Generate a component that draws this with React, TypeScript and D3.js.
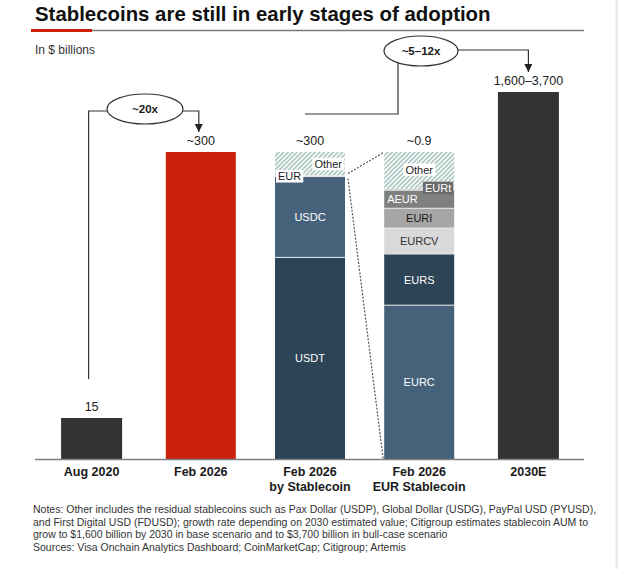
import * as d3 from 'd3'
import { useEffect, useRef } from 'react'

const categories = ['Aug 2020', 'Feb 2026', 'Feb 2026 by Stablecoin', 'Feb 2026 EUR Stablecoin', '2030E']
const categoryLines = [['Aug 2020'], ['Feb 2026'], ['Feb 2026', 'by Stablecoin'], ['Feb 2026', 'EUR Stablecoin'], ['2030E']]
const totalValues = [15, 300, 300, 0.9, 3700]
const totalLabels = ['15', '~300', '~300', '~0.9', '1,600–3,700']

const stablecoinNames = ['USDT', 'USDC', 'EUR', 'Other']
const stablecoinValues = [197, 79, 1, 23]

const eurNames = ['EURC', 'EURS', 'EURCV', 'EURI', 'AEUR', 'EURt', 'Other']
const eurValues = [0.451, 0.15, 0.076, 0.058, 0.053, 0.003, 0.109]

const growthLabels = ['~20x', '~5–12x']

const notes = [
  'Notes: Other includes the residual stablecoins such as Pax Dollar (USDP), Global Dollar (USDG), PayPal USD (PYUSD),',
  'and First Digital USD (FDUSD); growth rate depending on 2030 estimated value; Citigroup estimates stablecoin AUM to',
  'grow to $1,600 billion by 2030 in base scenario and to $3,700 billion in bull-case scenario',
  'Sources: Visa Onchain Analytics Dashboard; CoinMarketCap; Citigroup; Artemis',
]

const FONT = '"Liberation Sans", Arial, sans-serif'
const W = 618
const H = 569
const baseY = 459

// segment styling: fill and text colour
const segStyle: Record<string, { fill: string; text: string }> = {
  USDT: { fill: '#2d4356', text: '#ffffff' },
  USDC: { fill: '#46627a', text: '#ffffff' },
  EUR: { fill: '#46627a', text: '#222' },
  Other: { fill: 'url(#hatch)', text: '#222' },
  EURC: { fill: '#46627a', text: '#ffffff' },
  EURS: { fill: '#2d4356', text: '#ffffff' },
  EURCV: { fill: '#d9d9d9', text: '#333' },
  EURI: { fill: '#a6a6a6', text: '#1a1a1a' },
  AEUR: { fill: '#808080', text: '#ffffff' },
  EURt: { fill: '#6b6b6b', text: '#ffffff' },
}

const App = () => {
  const ref = useRef<SVGSVGElement>(null)

  useEffect(() => {
    const svg = d3.select(ref.current)
    svg.selectAll('*').remove()

    const x = d3.scaleBand<string>().domain(categories).range([37, 583])
    // broken value axis: each bar gets its own stretch of the axis
    const y = d3.scaleLinear().domain([0, 15, 300, 3700]).range([baseY, 418, 152, 92])
    // the two breakdown bars are drawn on their own linear scales
    const yStack = d3.scaleLinear().domain([0, 300]).range([baseY, 152])
    const yEur = d3.scaleLinear().domain([0, 0.9]).range([baseY, 152])
    const barW = [61, 70, 70, 70, 61]

    const cx = (i: number) => (x(categories[i]) ?? 0) + x.bandwidth() / 2

    const defs = svg.append('defs')
    const pat = defs
      .append('pattern')
      .attr('id', 'hatch')
      .attr('patternUnits', 'userSpaceOnUse')
      .attr('width', 3.2)
      .attr('height', 3.2)
      .attr('patternTransform', 'rotate(45)')
    pat.append('rect').attr('width', 3.2).attr('height', 3.2).attr('fill', '#fff')
    pat
      .append('line')
      .attr('x1', 1)
      .attr('x2', 1)
      .attr('y1', 0)
      .attr('y2', 3.2)
      .attr('stroke', '#a2bfba')
      .attr('stroke-width', 1.5)

    defs
      .append('marker')
      .attr('id', 'arrow')
      .attr('viewBox', '0 0 10 10')
      .attr('refX', 10)
      .attr('refY', 5)
      .attr('markerWidth', 8)
      .attr('markerHeight', 8)
      .attr('markerUnits', 'userSpaceOnUse')
      .attr('orient', 'auto')
      .append('path')
      .attr('d', 'M0,0 L10,5 L0,10 Z')
      .attr('fill', '#222')

    svg.append('rect').attr('width', W).attr('height', H).attr('fill', '#fff')
    svg
      .append('line')
      .attr('x1', 616.5)
      .attr('x2', 616.5)
      .attr('y1', 0)
      .attr('y2', H)
      .attr('stroke', '#e4e4e4')
      .attr('stroke-width', 2)

    // title
    svg
      .append('text')
      .attr('x', 35)
      .attr('y', 21)
      .attr('font-family', FONT)
      .attr('font-weight', 'bold')
      .attr('font-size', 20.4)
      .attr('fill', '#111')
      .text('Stablecoins are still in early stages of adoption')
    svg
      .append('line')
      .attr('x1', 92)
      .attr('x2', 584)
      .attr('y1', 30.5)
      .attr('y2', 30.5)
      .attr('stroke', '#7a7a7a')
      .attr('stroke-width', 1.3)
    svg
      .append('line')
      .attr('x1', 31)
      .attr('x2', 92)
      .attr('y1', 30.5)
      .attr('y2', 30.5)
      .attr('stroke', '#d0200c')
      .attr('stroke-width', 3)

    svg
      .append('text')
      .attr('x', 35)
      .attr('y', 54)
      .attr('font-family', FONT)
      .attr('font-size', 12)
      .attr('fill', '#333')
      .text('In $ billions')

    const g = svg.append('g')

    // simple bars
    const simple = [0, 1, 4]
    const simpleFill = ['#333333', '#c92109', '', '', '#333333']
    g.selectAll('rect.simple')
      .data(simple)
      .enter()
      .append('rect')
      .attr('class', 'simple')
      .attr('x', (i) => cx(i) - barW[i] / 2)
      .attr('width', (i) => barW[i])
      .attr('y', (i) => y(totalValues[i]))
      .attr('height', (i) => baseY - y(totalValues[i]))
      .attr('fill', (i) => simpleFill[i])

    // stacked bars
    function drawStack(i: number, names: string[], values: number[], scale: d3.ScaleLinear<number, number>) {
      const ends = Array.from(d3.cumsum(values))
      const left = cx(i) - barW[i] / 2
      const segs = names.map((n, k) => ({
        name: n,
        y0: scale(ends[k] - values[k]),
        y1: scale(ends[k]),
      }))
      g.append('g')
        .selectAll('rect')
        .data(segs)
        .enter()
        .append('rect')
        .attr('x', left)
        .attr('width', barW[i])
        .attr('y', (d) => d.y1)
        .attr('height', (d) => d.y0 - d.y1)
        .attr('fill', (d) => segStyle[d.name].fill)
      // thin separators
      g.append('g')
        .selectAll('line')
        .data(segs.slice(0, -1))
        .enter()
        .append('line')
        .attr('x1', left)
        .attr('x2', left + barW[i])
        .attr('y1', (d) => d.y1)
        .attr('y2', (d) => d.y1)
        .attr('stroke', '#e8ecef')
        .attr('stroke-width', 1)
      return { segs, left }
    }

    const s3 = drawStack(2, stablecoinNames, stablecoinValues, yStack)
    const s4 = drawStack(3, eurNames, eurValues, yEur)

    function segLabel(
      seg: { name: string; y0: number; y1: number },
      left: number,
      i: number,
      align: 'middle' | 'start' | 'end',
      box: string | null,
      dy = 0
    ) {
      const mid = (seg.y0 + seg.y1) / 2 + dy
      const tx = align === 'middle' ? left + barW[i] / 2 : align === 'start' ? left + 3 : left + barW[i] - 3
      const t = g
        .append('text')
        .attr('x', tx)
        .attr('y', mid + 4)
        .attr('text-anchor', align)
        .attr('font-family', FONT)
        .attr('font-size', 11)
        .attr('fill', segStyle[seg.name].text)
        .text(seg.name)
      if (box) {
        const bb = (t.node() as SVGTextElement).getBBox()
        g.insert('rect', () => t.node() as Element)
          .attr('x', bb.x - 2)
          .attr('y', mid - 6)
          .attr('width', bb.width + 4)
          .attr('height', 12.5)
          .attr('fill', box)
      }
    }

    s3.segs.forEach((seg) => {
      if (seg.name === 'Other') segLabel(seg, s3.left, 2, 'end', '#fff')
      else if (seg.name === 'EUR') segLabel(seg, s3.left, 2, 'start', '#fff', 0)
      else segLabel(seg, s3.left, 2, 'middle', null)
    })
    s4.segs.forEach((seg) => {
      if (seg.name === 'Other') segLabel(seg, s4.left, 3, 'middle', '#fff', -1)
      else if (seg.name === 'EURt') segLabel(seg, s4.left, 3, 'end', '#6b6b6b', -2)
      else if (seg.name === 'AEUR') segLabel(seg, s4.left, 3, 'start', null)
      else segLabel(seg, s4.left, 3, 'middle', null)
    })

    // dashed zoom lines from EUR segment to EUR bar
    const eurSeg = s3.segs.find((d) => d.name === 'EUR')!
    const r3 = s3.left + barW[2] + 3
    const dashed = [
      [r3, eurSeg.y1 - 2, s4.left, yEur(0.9)],
      [r3, eurSeg.y0 + 2, s4.left - 1, yEur(0)],
    ]
    g.selectAll('line.zoom')
      .data(dashed)
      .enter()
      .append('line')
      .attr('class', 'zoom')
      .attr('x1', (d) => d[0])
      .attr('y1', (d) => d[1])
      .attr('x2', (d) => d[2])
      .attr('y2', (d) => d[3])
      .attr('stroke', '#555')
      .attr('stroke-width', 1.2)
      .attr('stroke-dasharray', '2,1.5')

    // value labels
    const topOf = (i: number) => (i === 3 ? yEur(0.9) : i === 2 ? yStack(300) : y(totalValues[i]))
    g.selectAll('text.total')
      .data(totalLabels)
      .enter()
      .append('text')
      .attr('class', 'total')
      .attr('x', (_d, i) => cx(i))
      .attr('y', (_d, i) => topOf(i) - 7)
      .attr('text-anchor', 'middle')
      .attr('font-family', FONT)
      .attr('font-size', 12.5)
      .attr('fill', '#222')
      .text((d) => d)

    // axis
    svg
      .append('line')
      .attr('x1', 35)
      .attr('x2', 584)
      .attr('y1', baseY + 0.5)
      .attr('y2', baseY + 0.5)
      .attr('stroke', '#7f7f7f')
      .attr('stroke-width', 1.3)

    categoryLines.forEach((lines, i) => {
      const t = svg
        .append('text')
        .attr('x', cx(i))
        .attr('y', 476)
        .attr('text-anchor', 'middle')
        .attr('font-family', FONT)
        .attr('font-weight', 'bold')
        .attr('font-size', 12.5)
        .attr('fill', '#1a1a1a')
      lines.forEach((l, k) => {
        t.append('tspan')
          .attr('x', cx(i))
          .attr('dy', k === 0 ? 0 : 15)
          .text(l)
      })
    })

    // growth annotations
    const ann = svg.append('g')
    const connector = (pts: [number, number][], arrow: boolean) => {
      ann
        .append('path')
        .attr('d', d3.line()(pts))
        .attr('fill', 'none')
        .attr('stroke', '#333')
        .attr('stroke-width', 1.2)
        .attr('marker-end', arrow ? 'url(#arrow)' : null)
    }
    const e1 = { x: 145, y: 109 }
    const e2 = { x: 421, y: 51 }
    const lbl1Top = y(totalValues[1]) - 7 - 13
    const lbl5Top = y(totalValues[4]) - 7 - 13
    connector(
      [
        [cx(0) - 3, 379],
        [cx(0) - 3, e1.y + 2],
        [e1.x - 38, e1.y + 2],
      ],
      false
    )
    connector(
      [
        [e1.x + 38, e1.y + 2],
        [cx(1) - 2, e1.y + 2],
        [cx(1) - 2, lbl1Top],
      ],
      true
    )
    connector(
      [
        [cx(2) - 5, 114],
        [e2.x - 23, 114],
        [e2.x - 23, e2.y + 12],
      ],
      false
    )
    connector(
      [
        [e2.x + 37, e2.y - 1],
        [cx(4), e2.y - 1],
        [cx(4), lbl5Top],
      ],
      true
    )
    ;[e1, e2].forEach((e, k) => {
      ann
        .append('ellipse')
        .attr('cx', e.x)
        .attr('cy', e.y)
        .attr('rx', k === 0 ? 38 : 37)
        .attr('ry', 15)
        .attr('fill', '#fff')
        .attr('stroke', '#333')
        .attr('stroke-width', 1.2)
      ann
        .append('text')
        .attr('x', e.x)
        .attr('y', e.y + 4)
        .attr('text-anchor', 'middle')
        .attr('font-family', FONT)
        .attr('font-weight', 'bold')
        .attr('font-size', 11.5)
        .attr('fill', '#1a1a1a')
        .text(growthLabels[k])
    })

    // notes
    svg
      .append('g')
      .selectAll('text')
      .data(notes)
      .enter()
      .append('text')
      .attr('x', 33)
      .attr('y', (_d, i) => 513 + i * 12.6)
      .attr('font-family', FONT)
      .attr('font-size', 10.5)
      .attr('fill', '#333')
      .text((d) => d)
  }, [])

  return (
    <svg
      ref={ref}
      width={W}
      height={H}
      style={{ position: 'absolute', left: 0, top: 0, display: 'block' }}
    />
  )
}

export default App
